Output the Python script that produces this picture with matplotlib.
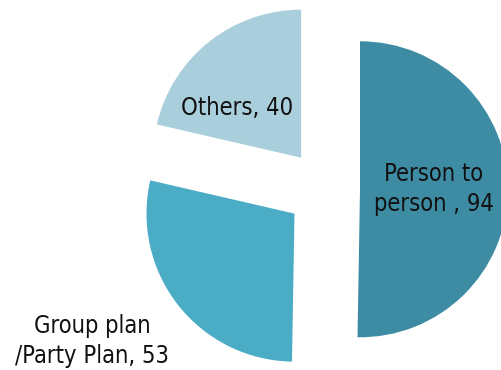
import matplotlib
matplotlib.use("Agg")
import matplotlib.pyplot as plt
from matplotlib import font_manager

# Data
categories = ["Person to\nperson ", "Group plan\n/Party Plan", "Others"]
values = [94, 53, 40]
colors = ["#3E8CA4", "#4BACC6", "#A9CEDC"]

W, H = 501, 370
fig = plt.figure(figsize=(W / 100, H / 100), dpi=100)
ax = fig.add_axes([0, 0, 1, 1])

# Prefer a narrow sans face for the labels
fonts = {(f.name, f.stretch) for f in font_manager.fontManager.ttflist}
if any(n == "Liberation Sans Narrow" for n, _ in fonts):
    font_kw = dict(family=["Liberation Sans Narrow"])
else:
    font_kw = dict(family=["DejaVu Sans"], stretch="condensed")

center = (326, 181)
radius = 148
wedges, _ = ax.pie(values, colors=colors, startangle=90, counterclock=False,
                   center=center, radius=radius, explode=[34, 40, 40],
                   wedgeprops=dict(linewidth=0))

label_pos = [(434, 181), (92, 29), (237, 262)]
for cat, val, (lx, ly) in zip(categories, values, label_pos):
    ax.text(lx, ly, f"{cat}, {val}", ha="center", va="center",
            fontsize=17, color="#111111", linespacing=1.3, **font_kw)

ax.set_xlim(0, W)
ax.set_ylim(0, H)
ax.set_aspect("equal")
ax.axis("off")
fig.savefig("out.png", dpi=100)
